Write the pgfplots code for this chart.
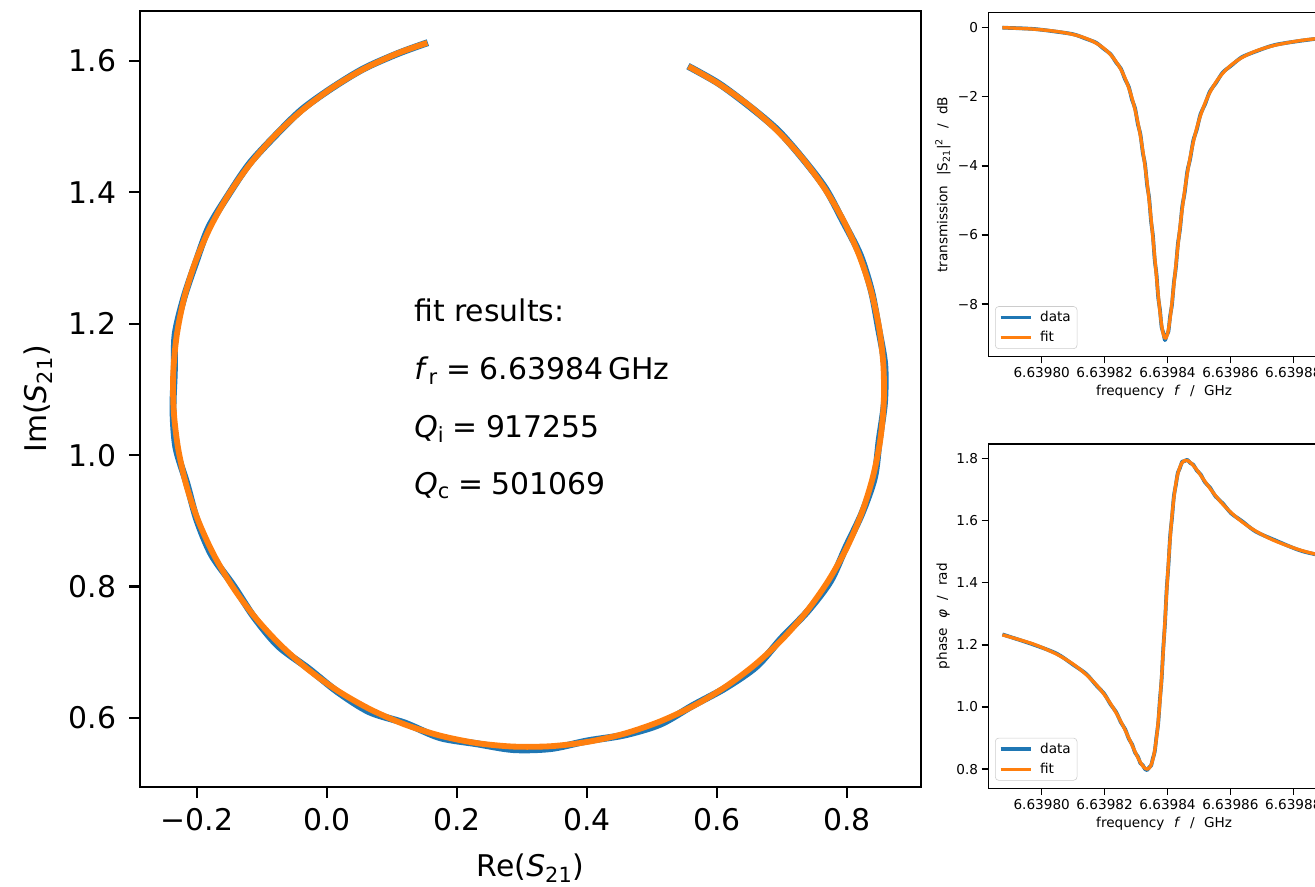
\documentclass[border=0pt]{standalone}
\usepackage{fontspec}
\setmainfont{DejaVu Sans}
\usepackage{pgfplots}
\usepackage{pgfplotstable}
\pgfplotsset{compat=1.18}
\definecolor{mplBlue}{HTML}{1F77B4}
\definecolor{mplOrange}{HTML}{FF7F0E}
\definecolor{legEdge}{HTML}{CCCCCC}

\newcommand\bigfont{\fontsize{21.5}{26}\selectfont}
\newcommand\smallfont{\fontsize{9.8}{11.8}\selectfont}
\newcommand\gap{\hspace{0.7em}}

% f = (frequency - 6.6398 GHz) * 1e5
\pgfplotstableread{
f reF imF reD imD dbF dbD phF phD
-1.2495 0.5600 1.5895 0.5600 1.5895 -0.001 -0.004 1.2320 1.2335
-0.2791 0.6031 1.5648 0.6033 1.5652 -0.044 -0.039 1.2029 1.2012
0.4790 0.6497 1.5317 0.6494 1.5313 -0.113 -0.121 1.1696 1.1715
1.0152 0.6927 1.4938 0.6934 1.4945 -0.203 -0.196 1.1366 1.1348
1.4164 0.7315 1.4517 0.7315 1.4517 -0.315 -0.327 1.1040 1.1062
1.7295 0.7656 1.4057 0.7665 1.4063 -0.449 -0.438 1.0721 1.0700
1.9818 0.7948 1.3564 0.7939 1.3560 -0.605 -0.621 1.0408 1.0432
2.1905 0.8186 1.3044 0.8200 1.3050 -0.784 -0.770 1.0103 1.0080
2.3669 0.8369 1.2501 0.8374 1.2503 -0.988 -1.010 0.9808 0.9835
2.5187 0.8493 1.1942 0.8483 1.1940 -1.215 -1.190 0.9526 0.9500
2.6514 0.8559 1.1374 0.8579 1.1376 -1.468 -1.500 0.9258 0.9288
2.7691 0.8565 1.0801 0.8575 1.0800 -1.747 -1.715 0.9001 0.8975
2.8747 0.8511 1.0231 0.8496 1.0233 -2.052 -2.095 0.8765 0.8795
2.9703 0.8398 0.9670 0.8422 0.9664 -2.385 -2.340 0.8554 0.8525
3.0580 0.8227 0.9123 0.8232 0.9121 -2.747 -2.800 0.8369 0.8400
3.1390 0.7999 0.8598 0.7985 0.8605 -3.139 -3.090 0.8214 0.8185
3.2144 0.7718 0.8099 0.7744 0.8083 -3.560 -3.620 0.8097 0.8125
3.2853 0.7387 0.7633 0.7395 0.7627 -4.011 -3.950 0.8022 0.7995
3.3523 0.7008 0.7203 0.6994 0.7217 -4.491 -4.560 0.7996 0.7965
3.4161 0.6587 0.6815 0.6610 0.6788 -5.000 -4.930 0.8029 0.8055
3.4772 0.6127 0.6474 0.6136 0.6462 -5.533 -5.600 0.8131 0.8105
3.5362 0.5634 0.6182 0.5630 0.6191 -6.085 -6.020 0.8316 0.8350
3.5935 0.5114 0.5944 0.5129 0.5907 -6.647 -6.720 0.8599 0.8560
3.6494 0.4571 0.5761 0.4577 0.5742 -7.203 -7.130 0.8999 0.9045
3.7042 0.4012 0.5637 0.4010 0.5652 -7.734 -7.800 0.9521 0.9470
3.7584 0.3444 0.5571 0.3446 0.5536 -8.211 -8.150 1.0171 1.0230
3.8121 0.2871 0.5565 0.2869 0.5520 -8.601 -8.660 1.0945 1.0880
3.8658 0.2301 0.5619 0.2300 0.5609 -8.868 -8.820 1.1821 1.1890
3.9196 0.1740 0.5732 0.1733 0.5703 -8.985 -9.040 1.2761 1.2690
3.9740 0.1193 0.5903 0.1200 0.5922 -8.938 -8.890 1.3713 1.3790
4.0291 0.0668 0.6131 0.0650 0.6095 -8.734 -8.790 1.4623 1.4550
4.0854 0.0169 0.6412 0.0161 0.6400 -8.392 -8.330 1.5444 1.5510
4.1432 -0.0297 0.6743 -0.0288 0.6755 -7.949 -8.010 1.6149 1.6090
4.2029 -0.0727 0.7122 -0.0752 0.7097 -7.438 -7.380 1.6727 1.6780
4.2649 -0.1115 0.7543 -0.1123 0.7537 -6.889 -6.950 1.7179 1.7140
4.3297 -0.1456 0.8003 -0.1440 0.8014 -6.328 -6.270 1.7506 1.7545
4.3979 -0.1748 0.8496 -0.1775 0.8482 -5.771 -5.830 1.7731 1.7700
4.4702 -0.1986 0.9016 -0.2000 0.9011 -5.229 -5.170 1.7871 1.7900
4.5474 -0.2169 0.9559 -0.2155 0.9563 -4.709 -4.770 1.7934 1.7915
4.6304 -0.2293 1.0118 -0.2323 1.0113 -4.216 -4.160 1.7932 1.7955
4.7206 -0.2359 1.0686 -0.2369 1.0686 -3.751 -3.800 1.7876 1.7855
4.8193 -0.2365 1.1259 -0.2350 1.1259 -3.317 -3.270 1.7772 1.7800
4.9287 -0.2311 1.1829 -0.2336 1.1833 -2.913 -2.960 1.7639 1.7615
5.0510 -0.2198 1.2390 -0.2203 1.2391 -2.539 -2.500 1.7462 1.7490
5.1895 -0.2027 1.2937 -0.2018 1.2934 -2.193 -2.230 1.7261 1.7235
5.3489 -0.1799 1.3462 -0.1817 1.3471 -1.875 -1.845 1.7037 1.7065
5.5351 -0.1518 1.3961 -0.1518 1.3961 -1.585 -1.610 1.6792 1.6770
5.7568 -0.1187 1.4427 -0.1195 1.4433 -1.321 -1.300 1.6528 1.6555
6.0270 -0.0808 1.4857 -0.0805 1.4854 -1.083 -1.100 1.6251 1.6230
6.3657 -0.0387 1.5245 -0.0394 1.5253 -0.869 -0.855 1.5962 1.5985
6.8054 0.0073 1.5586 0.0073 1.5586 -0.680 -0.692 1.5662 1.5645
7.4028 0.0566 1.5878 0.0564 1.5882 -0.514 -0.505 1.5352 1.5375
8.2676 0.1086 1.6116 0.1088 1.6112 -0.370 -0.378 1.5035 1.5020
9.2496 0.1501 1.6261 0.1501 1.6261 -0.275 -0.270 1.4788 1.4800
}\sweep

\pgfplotsset{
  sweepaxis/.style={
    anchor=south west, scale only axis, tick pos=left, tick align=outside,
    axis line style={black, line width=1.1pt},
    every tick/.style={black, line width=1.1pt},
    major tick length=4.8pt,
    ticklabel style={font=\smallfont},
    label style={font=\smallfont},
    xticklabel style={anchor=north, inner sep=0pt, yshift=-2.8pt},
    yticklabel style={anchor=east, inner sep=0pt, xshift=-2.4pt},
    width=253.2pt, height=247.8pt,
    xmin=-1.698, xmax=9.485,
    xtick={0,2,4,6,8},
    xticklabels={6.63980,6.63982,6.63984,6.63986,6.63988},
    xlabel={frequency\gap\textit{f}\gap/\gap GHz},
    x label style={at={(axis description cs:0.5,-0.103)}, anchor=center},
    y label style={at={(axis description cs:-0.1288,0.5)}, anchor=center},
    legend style={at={(0.019,0.0224)}, anchor=south west, draw=legEdge,
      rounded corners=2.5pt, fill=white, font=\smallfont,
      inner xsep=2.5pt, inner ysep=1.5pt, row sep=1.5pt,
      /tikz/every odd column/.append style={column sep=3.5pt}},
    legend cell align=left,
    legend image code/.code={\draw[##1] (0pt,0pt) -- (21.6pt,0pt);},
  },
}

\begin{document}
\begin{tikzpicture}
\begin{axis}[
  at={(100.8pt,71.28pt)}, anchor=south west,
  width=562.32pt, height=558.72pt, scale only axis,
  xmin=-0.2877, xmax=0.9138, ymin=0.495, ymax=1.676,
  xtick={-0.2,0,0.2,0.4,0.6,0.8},
  xticklabels={−0.2,0.0,0.2,0.4,0.6,0.8},
  ytick={0.6,0.8,1.0,1.2,1.4,1.6},
  yticklabels={0.6,0.8,1.0,1.2,1.4,1.6},
  tick pos=left, tick align=outside, major tick length=7.7pt,
  axis line style={black, line width=1.6pt},
  every tick/.style={black, line width=1.6pt},
  ticklabel style={font=\bigfont},
  label style={font=\bigfont},
  xticklabel style={anchor=north, inner sep=0pt, yshift=-7.4pt},
  yticklabel style={anchor=east, inner sep=0pt, xshift=-9.1pt},
  xlabel={Re(\textit{S}\textsubscript{21})},
  ylabel={Im(\textit{S}\textsubscript{21})},
  x label style={at={(axis description cs:0.5,-0.1044)}, anchor=center},
  y label style={at={(axis description cs:-0.1306,0.5)}, anchor=center},
]
\addplot[mplBlue, line width=5pt, smooth, line join=round, line cap=rect] table[x=reD, y=imD] {\sweep};
\addplot[mplOrange, line width=4.2pt, smooth, line join=round, line cap=rect] table[x=reF, y=imF] {\sweep};
\end{axis}

\node[anchor=base west, font=\bigfont, inner sep=0pt] at (298.08pt,406.08pt) {fit results:};
\node[anchor=base west, font=\bigfont, inner sep=0pt] at (298.08pt,364.32pt)
  {\textit{f}\textsubscript{r}\hspace{0.28em}=\hspace{0.28em}6.63984\hspace{0.17em}GHz};
\node[anchor=base west, font=\bigfont, inner sep=0pt] at (298.08pt,323.28pt)
  {\textit{Q}\textsubscript{i}\hspace{0.28em}=\hspace{0.28em}917255};
\node[anchor=base west, font=\bigfont, inner sep=0pt] at (298.08pt,281.88pt)
  {\textit{Q}\textsubscript{c}\hspace{0.28em}=\hspace{0.28em}501069};

\begin{axis}[sweepaxis,
  at={(711.58pt,381.10pt)},
  ymin=-9.52, ymax=0.435,
  ytick={-8,-6,-4,-2,0},
  yticklabels={−8,−6,−4,−2,0},
  ylabel={transmission\gap|S\textsubscript{21}|\textsuperscript{2}\gap/\gap dB},
]
\addplot[mplBlue, line width=2.7pt, smooth, line join=round] table[x=f, y=dbD] {\sweep};
\addlegendentry{data}
\addplot[mplOrange, line width=2.4pt, smooth, line join=round] table[x=f, y=dbF] {\sweep};
\addlegendentry{fit}
\end{axis}

\begin{axis}[sweepaxis,
  at={(711.58pt,70.34pt)},
  ymin=0.738, ymax=1.846,
  ytick={0.8,1.0,1.2,1.4,1.6,1.8},
  yticklabels={0.8,1.0,1.2,1.4,1.6,1.8},
  ylabel={phase\gap\textit{φ}\gap/\gap rad},
]
\addplot[mplBlue, line width=2.7pt, smooth, line join=round] table[x=f, y=phD] {\sweep};
\addlegendentry{data}
\addplot[mplOrange, line width=2.4pt, smooth, line join=round] table[x=f, y=phF] {\sweep};
\addlegendentry{fit}
\end{axis}

\pgfresetboundingbox
\path[use as bounding box] (0pt,0pt) rectangle (946.8pt,637.92pt);
\end{tikzpicture}
\end{document}
